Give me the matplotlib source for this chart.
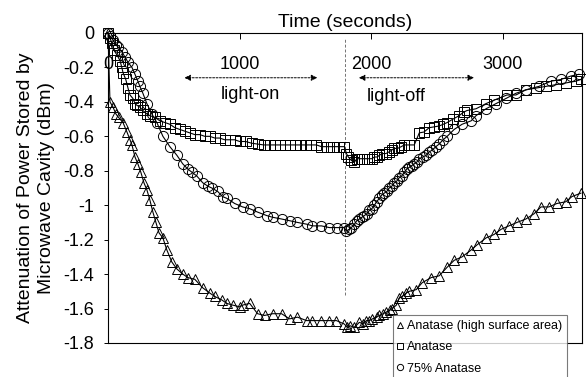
import matplotlib
matplotlib.use("Agg")
import matplotlib.pyplot as plt
from matplotlib.ticker import FuncFormatter

plt.rcParams['font.family'] = ['Liberation Sans', 'DejaVu Sans']
plt.rcParams['axes.unicode_minus'] = False

# Anatase (high surface area) - triangles
t_tri = [0, 15, 38, 60, 80, 114, 144, 167, 182, 205, 227, 250, 273, 295, 318,
         341, 364, 387, 417, 447, 485, 523, 568, 606, 659, 720, 773, 811, 864,
         902, 947, 1000, 1023, 1076, 1136, 1189, 1250, 1318, 1379, 1439, 1508,
         1553, 1621, 1682, 1735, 1795, 1818, 1840, 1870, 1909, 1940, 1962,
         1985, 2008, 2040, 2061, 2090, 2114, 2140, 2159, 2190, 2212, 2235,
         2265, 2288, 2341, 2386, 2455, 2515, 2576, 2629, 2689, 2758, 2803,
         2871, 2932, 2985, 3045, 3106, 3174, 3235, 3288, 3348, 3409, 3477,
         3523, 3591]
v_tri = [0, -0.40, -0.43, -0.47, -0.49, -0.52, -0.575, -0.62, -0.65, -0.72,
         -0.76, -0.81, -0.87, -0.91, -0.97, -1.04, -1.10, -1.16, -1.19, -1.26,
         -1.33, -1.37, -1.40, -1.42, -1.43, -1.48, -1.51, -1.53, -1.55, -1.57,
         -1.58, -1.59, -1.58, -1.57, -1.63, -1.64, -1.63, -1.63, -1.66, -1.65,
         -1.67, -1.67, -1.67, -1.67, -1.67, -1.69, -1.71, -1.70, -1.71, -1.68,
         -1.69, -1.67, -1.67, -1.66, -1.65, -1.64, -1.63, -1.62, -1.61, -1.60,
         -1.58, -1.54, -1.53, -1.51, -1.50, -1.49, -1.45, -1.42, -1.41, -1.36,
         -1.32, -1.30, -1.26, -1.23, -1.19, -1.17, -1.14, -1.12, -1.10, -1.08,
         -1.05, -1.01, -1.01, -0.99, -0.98, -0.95, -0.93]

# Anatase - squares
t_sq = [0, 15, 30, 45, 70, 91, 105, 114, 135, 152, 167, 189, 205, 220, 242,
        265, 295, 318, 356, 394, 432, 470, 508, 545, 583, 621, 659, 697, 735,
        773, 811, 848, 886, 924, 962, 1000, 1045, 1091, 1136, 1182, 1227, 1265,
        1303, 1341, 1379, 1417, 1455, 1500, 1545, 1583, 1621, 1667, 1712, 1758,
        1795, 1811, 1825, 1848, 1871, 1890, 1909, 1928, 1947, 1966, 1985, 2004,
        2023, 2045, 2061, 2083, 2110, 2136, 2155, 2174, 2200, 2227, 2250, 2288,
        2326, 2364, 2400, 2439, 2477, 2515, 2546, 2576, 2620, 2667, 2700, 2727,
        2795, 2871, 2932, 3030, 3098, 3174, 3250, 3326, 3402, 3477, 3553, 3591]
v_sq = [0, -0.03, -0.06, -0.10, -0.13, -0.16, -0.20, -0.23, -0.27, -0.32,
        -0.36, -0.38, -0.41, -0.42, -0.43, -0.45, -0.47, -0.48, -0.49, -0.51,
        -0.52, -0.53, -0.55, -0.56, -0.57, -0.58, -0.59, -0.59, -0.60, -0.60,
        -0.61, -0.61, -0.62, -0.62, -0.62, -0.63, -0.63, -0.64, -0.645, -0.65,
        -0.65, -0.65, -0.65, -0.65, -0.65, -0.65, -0.65, -0.65, -0.65, -0.65,
        -0.66, -0.66, -0.66, -0.66, -0.66, -0.70, -0.72, -0.74, -0.75, -0.73,
        -0.73, -0.73, -0.73, -0.73, -0.73, -0.73, -0.72, -0.72, -0.71, -0.70,
        -0.70, -0.69, -0.68, -0.67, -0.67, -0.66, -0.65, -0.65, -0.65, -0.58,
        -0.575, -0.55, -0.545, -0.54, -0.53, -0.52, -0.50, -0.48, -0.46, -0.45,
        -0.44, -0.41, -0.39, -0.36, -0.36, -0.33, -0.32, -0.31, -0.30, -0.29,
        -0.28, -0.27]

# 75% Anatase - circles
t_ci = [0, 15, 38, 60, 76, 106, 129, 152, 182, 205, 227, 242, 265, 295, 333,
        371, 417, 470, 523, 568, 606, 640, 674, 720, 760, 788, 833, 870, 902,
        962, 1023, 1076, 1136, 1205, 1250, 1318, 1379, 1439, 1508, 1553, 1621,
        1682, 1742, 1795, 1811, 1830, 1848, 1871, 1890, 1909, 1928, 1947, 1966,
        1985, 2004, 2023, 2040, 2061, 2080, 2098, 2117, 2136, 2155, 2174, 2193,
        2212, 2231, 2250, 2269, 2288, 2307, 2326, 2345, 2364, 2390, 2417, 2440,
        2462, 2490, 2515, 2545, 2576, 2629, 2689, 2758, 2795, 2871, 2947, 3023,
        3098, 3174, 3273, 3364, 3439, 3515, 3576]
v_ci = [0, -0.02, -0.04, -0.07, -0.08, -0.11, -0.14, -0.17, -0.20, -0.24,
        -0.28, -0.31, -0.35, -0.41, -0.47, -0.52, -0.60, -0.66, -0.71, -0.76,
        -0.79, -0.81, -0.83, -0.87, -0.89, -0.90, -0.92, -0.95, -0.96, -0.99,
        -1.01, -1.02, -1.04, -1.06, -1.07, -1.08, -1.09, -1.10, -1.11, -1.12,
        -1.12, -1.13, -1.13, -1.13, -1.15, -1.14, -1.13, -1.11, -1.09, -1.08,
        -1.07, -1.06, -1.05, -1.03, -1.02, -1.00, -0.98, -0.96, -0.94, -0.93,
        -0.92, -0.90, -0.89, -0.87, -0.86, -0.84, -0.83, -0.81, -0.79, -0.78,
        -0.77, -0.76, -0.75, -0.73, -0.72, -0.71, -0.69, -0.68, -0.66, -0.645,
        -0.62, -0.60, -0.56, -0.53, -0.51, -0.48, -0.44, -0.41, -0.38, -0.35,
        -0.33, -0.31, -0.28, -0.27, -0.25, -0.24]

labels = ['Anatase (high surface area)', 'Anatase', '75% Anatase']
x_ticks = [0, 1000, 2000, 3000]
y_ticks = [0, -0.2, -0.4, -0.6, -0.8, -1, -1.2, -1.4, -1.6, -1.8]

fig = plt.figure(figsize=(5.86, 3.77), dpi=100)
ax = fig.add_axes([0.1843, 0.0902, 0.8089, 0.8223])

series = [(t_tri, v_tri, '^'), (t_sq, v_sq, 's'), (t_ci, v_ci, 'o')]
handles = []
for (t, v, m), lab in zip(series, labels):
    ax.plot(t, v, 'k-', lw=0.8, clip_on=False, zorder=2)
    ax.plot(t, v, ls='none', marker=m, ms=7.3, mfc='none', mec='k', mew=0.7,
            clip_on=False, zorder=3)
    h, = ax.plot([], [], ls='none', marker=m, ms=4.5, mfc='none', mec='k',
                 mew=0.7, label=lab)
    handles.append(h)

# light on / light off boundary
ax.axvline(1800, ymin=0.155, ymax=0.985, color='0.45', lw=0.7,
           ls=(0, (3, 2)), zorder=1)

arrow = dict(arrowstyle='<|-|>', color='k', lw=0.7, ls=(0, (2, 1.5)),
             mutation_scale=9, shrinkA=0, shrinkB=0)
ax.annotate('', xy=(1590, -0.26), xytext=(580, -0.26), arrowprops=arrow)
ax.annotate('', xy=(2780, -0.26), xytext=(1905, -0.26), arrowprops=arrow)
ax.text(1080, -0.36, 'light-on', fontsize=13, ha='center', va='center')
ax.text(2190, -0.37, 'light-off', fontsize=13, ha='center', va='center')

ax.set_xlim(0, 3600)
ax.set_ylim(-1.8, 0)
ax.set_xticks(x_ticks)
ax.set_yticks(y_ticks)
ax.yaxis.set_major_formatter(FuncFormatter(lambda v, p: '%g' % (v + 0.0)))
ax.xaxis.set_label_position('top')
ax.set_xlabel('Time (seconds)', fontsize=14, labelpad=4)
ax.set_ylabel('Attenuation of Power Stored by\nMicrowave Cavity (dBm)',
              fontsize=14, labelpad=6, linespacing=1.3)
ax.tick_params(axis='x', top=True, labeltop=True, bottom=False,
               labelbottom=False, direction='in', length=4, width=0.7,
               labelsize=13, pad=-29)
ax.tick_params(axis='y', direction='out', length=3, width=0.7, labelsize=13,
               pad=7)
for s in ax.spines.values():
    s.set_linewidth(0.8)

leg = fig.legend(handles=handles, loc='upper left',
                 bbox_to_anchor=(393 / 586, 1 - 315 / 377), fontsize=9,
                 frameon=True, fancybox=False, edgecolor='0.35',
                 handlelength=0.3, handletextpad=0.4, borderpad=0.4,
                 labelspacing=0.75, borderaxespad=0)
leg.get_frame().set_linewidth(0.8)

fig.savefig('out.png', dpi=100)
